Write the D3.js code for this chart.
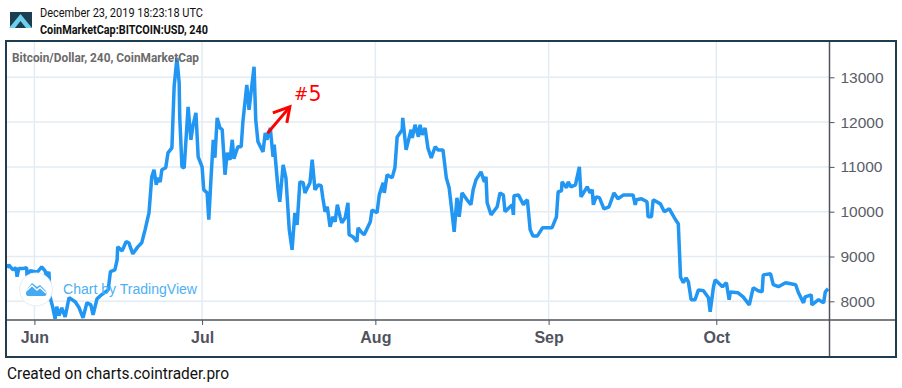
<!DOCTYPE html>
<html>
<head>
    <meta charset="utf-8" />
    <title>Bitcoin/Dollar</title>
    <style>
        html, body { margin: 0; padding: 0; background: #fff; overflow: hidden; }
        svg { display: block; }
        .axis-y text { font: 15.5px "Liberation Sans", Arial, sans-serif; fill: #5a5d68; }
        .axis-x text { font: bold 16px "Liberation Sans", Arial, sans-serif; fill: #50535e; }
        .axis-x path, .axis-y path { display: none; }
        .axis-x line, .axis-y line { stroke: #50535e; }
        .grid line { stroke: #e3ecf3; stroke-width: 1.5; }
    </style>
</head>
<body>
    <script src="https://cdn.jsdelivr.net/npm/d3@7"></script>
    <script>
        // days after 1 Jun 2019
        const days = [-4.9,-4.6,-3.8,-3.3,-3.1,-2.8,-2.1,-1.4,-1.3,-0.8,0.1,0.6,1.3,1.9,2.2,2.6,2.8,3.3,3.7,4.0,4.4,4.9,5.5,6.2,7.3,8.0,8.7,9.4,10.1,10.5,11.2,12.0,13.2,13.6,14.4,14.8,14.9,15.7,16.4,16.9,17.6,18.5,19.2,19.8,
            20.5,21.0,21.4,21.8,22.1,22.5,22.8,23.5,23.9,24.6,25.0,25.5,25.9,26.0,26.4,26.8,27.5,28.0,28.4,28.9,29.3,30.0,30.3,30.9,31.2,31.6,32.0,32.3,32.7,33.2,33.6,34.1,34.5,35.0,35.4,35.7,36.4,37.0,37.3,38.0,38.4,39.3,39.6,40.0,40.9,41.3,41.6,42.2,42.7,42.9,43.6,43.9,44.5,45.0,45.6,46.1,46.6,47.0,47.5,48.1,48.4,49.3,49.7,50.2,50.8,51.3,51.6,52.0,52.4,52.9,53.4,53.8,54.2,54.7,55.0,55.6,56.1,56.3,57.0,57.7,57.9,58.6,59.0,
            60.1,60.4,61.3,61.7,62.4,62.6,63.1,64.0,64.5,64.9,65.8,65.9,66.5,67.4,67.6,68.1,68.7,69.0,69.4,69.9,70.4,71.0,71.7,72.2,73.1,73.7,74.2,74.7,75.1,75.6,76.0,76.5,77.4,78.1,78.5,79.0,79.9,80.5,80.8,81.0,81.7,82.8,83.3,83.9,84.2,85.1,85.5,85.7,85.8,86.6,87.5,87.8,88.2,88.7,89.2,90.0,90.9,91.8,
            92.6,93.4,93.7,94.3,94.4,95.2,95.5,96.0,96.8,97.5,97.8,98.9,99.4,99.8,100.0,100.5,101.1,101.9,102.8,103.7,104.4,105.4,107.1,107.5,107.7,108.6,109.6,109.8,110.4,110.7,112.0,112.7,113.6,114.7,115.2,115.6,116.1,116.6,117.0,117.5,118.2,118.8,119.7,120.6,120.9,121.5,121.8,123.1,123.8,124.3,124.5,125.9,126.8,127.9,128.6,129.5,130.2,130.4,131.7,132.2,133.1,134.4,136.2,136.7,137.6,137.9,139.0,139.1,140.3,141.2,141.5,142.0]

        const prices = [8750,8810,8700,8750,8550,8730,8730,8750,8550,8680,8660,8660,8770,8680,8550,8660,8100,7855,7610,7880,7680,7855,7650,8080,7990,7855,7630,7970,7920,7700,8055,8145,8255,8660,8700,8925,9215,9125,9330,9305,9060,9215,9305,9595,
            9975,10780,10935,10600,10755,10665,10935,10980,11315,11425,12790,13435,12875,12115,11000,10980,12340,11605,11940,12205,11225,11000,10490,10420,9820,10755,11605,11205,12095,11870,11830,10825,11315,11160,11605,11180,11450,11450,12005,12830,12275,13235,12050,11560,11335,11760,11605,11870,11225,11495,10490,10220,11045,10755,9595,9150,9975,9705,10665,10645,10420,10645,11160,10490,10600,10580,10310,10000,10110,9665,9885,9775,10155,9885,9750,9865,10200,9485,9440,9330,9640,9530,9485,
            9775,10040,9975,10375,10645,10420,10825,10755,10980,11670,11830,12095,11380,11830,11650,11940,11670,11940,11715,11870,11425,11200,11450,11380,11380,10755,10535,10000,9550,10310,9885,10420,10265,10155,10490,10710,10890,10665,10780,10200,9930,10110,10420,10375,10000,10110,10155,9930,10355,10375,10155,10220,10265,9595,9460,9460,9640,9640,
            9640,9885,10445,10465,10665,10535,10665,10555,10600,11000,10330,10555,10420,10490,10155,10330,10310,10065,10110,10420,10290,10375,10375,10155,10265,10290,10220,9885,9885,10265,10175,10000,10065,9820,9730,8545,8415,8525,8435,8035,8035,8255,8235,8080,7765,8325,8480,8325,8415,8035,8210,8190,8100,7920,8300,8235,8210,8590,8615,8370,8325,8415,8370,8190,7965,8100,8145,7920,8035,7965,8210,8280]

        const priceTicks = [8000, 9000, 10000, 11000, 12000, 13000]
        const monthTicks = [new Date(Date.UTC(2019, 5, 1)), new Date(Date.UTC(2019, 6, 1)), new Date(Date.UTC(2019, 7, 1)), new Date(Date.UTC(2019, 8, 1)), new Date(Date.UTC(2019, 9, 1))]

        // red hand drawn note: arrow [day, price] tail and head
        const noteArrow = [[41.7, 11750], [45.7, 12340]]
        const dayMs = 86400000

        let width = 902, height = 388,
            frame = { left: 6, top: 41, right: 896, bottom: 357 },
            axisX = 829.5, axisY = 320

        let svg = d3.select('body')
                        .append('svg')
                        .attr('width', width)
                        .attr('height', height)

        let xScale = d3.scaleUtc()
                        .domain([monthTicks[0], monthTicks[4]])
                        .range([34.4, 716.3])

        let yScale = d3.scaleLinear()
                        .domain([8000, 13000])
                        .range([301.3, 77.3])

        function dayToDate(d) {
            return new Date(monthTicks[0].getTime() + d * dayMs)
        }

        // header
        svg.append('rect').attr('x', 10).attr('y', 12).attr('width', 22).attr('height', 16).attr('fill', '#1c3d52')
        svg.append('path').attr('d', 'M9 28 L20.5 14 L32 28 L26 28 L20.5 21 L15 28 Z').attr('fill', '#6fd0ea')
        svg.append('text').attr('x', 40).attr('y', 17).text('December 23, 2019 18:23:18 UTC')
            .attr('textLength', 163).attr('lengthAdjust', 'spacingAndGlyphs')
            .style('font', '12px Roboto').style('fill', '#111')
        svg.append('text').attr('x', 40).attr('y', 34).text('CoinMarketCap:BITCOIN:USD, 240')
            .attr('textLength', 168).attr('lengthAdjust', 'spacingAndGlyphs')
            .style('font', 'bold 12px Roboto').style('fill', '#111')

        // grid
        let grid = svg.append('g').classed('grid', true)
        grid.selectAll('line.v').data(monthTicks).join('line').classed('v', true)
            .attr('x1', d => xScale(d)).attr('x2', d => xScale(d))
            .attr('y1', frame.top).attr('y2', axisY)
        grid.selectAll('line.h').data(priceTicks).join('line').classed('h', true)
            .attr('x1', frame.left).attr('x2', axisX)
            .attr('y1', d => yScale(d)).attr('y2', d => yScale(d))

        // price line
        let line = d3.line()
                        .x(d => xScale(dayToDate(d)))
                        .y((d, i) => yScale(prices[i]))

        svg.append('path')
            .attr('d', line(days))
            .attr('fill', 'none')
            .attr('stroke', '#2196f3')
            .attr('stroke-width', 3.5)
            .attr('stroke-linejoin', 'bevel')

        // axes
        let xAxis = d3.axisBottom(xScale).tickValues(monthTicks).tickFormat(d3.utcFormat('%b')).tickSize(5).tickPadding(7)
        svg.append('g').classed('axis-x', true)
            .attr('transform', `translate(0, ${axisY})`)
            .call(xAxis)

        let yAxis = d3.axisRight(yScale).tickValues(priceTicks).tickFormat(d3.format('d')).tickSize(5).tickPadding(6)
        svg.append('g').classed('axis-y', true)
            .attr('transform', `translate(${axisX}, 0)`)
            .call(yAxis)

        svg.append('line').attr('x1', frame.left).attr('x2', frame.right).attr('y1', axisY).attr('y2', axisY)
            .attr('stroke', '#50535e').attr('stroke-width', 1.5)
        svg.append('line').attr('x1', axisX).attr('x2', axisX).attr('y1', frame.top).attr('y2', frame.bottom)
            .attr('stroke', '#50535e').attr('stroke-width', 1.5)

        // chart title + watermark
        svg.append('text').attr('x', 12).attr('y', 62).text('Bitcoin/Dollar, 240, CoinMarketCap')
            .attr('textLength', 187).attr('lengthAdjust', 'spacingAndGlyphs')
            .style('font', 'bold 13.5px Roboto').style('fill', '#6b6b6b')

        svg.append('circle').attr('cx', 36).attr('cy', 289.5).attr('r', 16.5)
            .attr('fill', '#fff').attr('stroke', '#e8eef3')
        svg.append('path')
            .attr('d', 'M26 293 Q26 290 28 288 L32 283 L37 287 L40 285 L46 291 Q47.5 296 44 296 L28 296 Q26 296 26 293 Z')
            .attr('fill', '#45aaf2')
        svg.append('path')
            .attr('d', 'M26 291 L32 285.5 L37 290 L40 287.5 L46 293')
            .attr('fill', 'none').attr('stroke', '#fff').attr('stroke-width', 1.4)
        svg.append('text').attr('x', 63).attr('y', 294).text('Chart by TradingView')
            .attr('textLength', 134).attr('lengthAdjust', 'spacingAndGlyphs')
            .style('font', '14px "Liberation Sans", Arial, sans-serif').style('fill', '#4db0f5')

        // note
        let tail = [xScale(dayToDate(noteArrow[0][0])), yScale(noteArrow[0][1])],
            head = [xScale(dayToDate(noteArrow[1][0])), yScale(noteArrow[1][1])]
        svg.append('line').attr('x1', tail[0]).attr('y1', tail[1]).attr('x2', head[0]).attr('y2', head[1])
            .attr('stroke', '#ff0000').attr('stroke-width', 3)
        svg.append('path')
            .attr('d', `M${head[0] - 17} ${head[1] + 6} L${head[0]} ${head[1]} L${head[0] - 3} ${head[1] + 16}`)
            .attr('fill', 'none').attr('stroke', '#ff0000').attr('stroke-width', 3)
        svg.append('text').attr('x', 294).attr('y', 100).text('#')
            .style('font', 'italic 17px "DejaVu Sans"').style('fill', '#ff0000')
        svg.append('text').attr('x', 308.5).attr('y', 101).text('5')
            .style('font', '20.5px "DejaVu Sans"').style('fill', '#ff0000')

        // outer frame and footer
        svg.append('rect')
            .attr('x', frame.left).attr('y', frame.top)
            .attr('width', frame.right - frame.left).attr('height', frame.bottom - frame.top)
            .attr('fill', 'none').attr('stroke', '#1f3d50').attr('stroke-width', 2)
        svg.append('text').attr('x', 7).attr('y', 379).text('Created on charts.cointrader.pro')
            .attr('textLength', 222).attr('lengthAdjust', 'spacingAndGlyphs')
            .style('font', '16px Roboto').style('fill', '#111')
    </script>
</body>
</html>
